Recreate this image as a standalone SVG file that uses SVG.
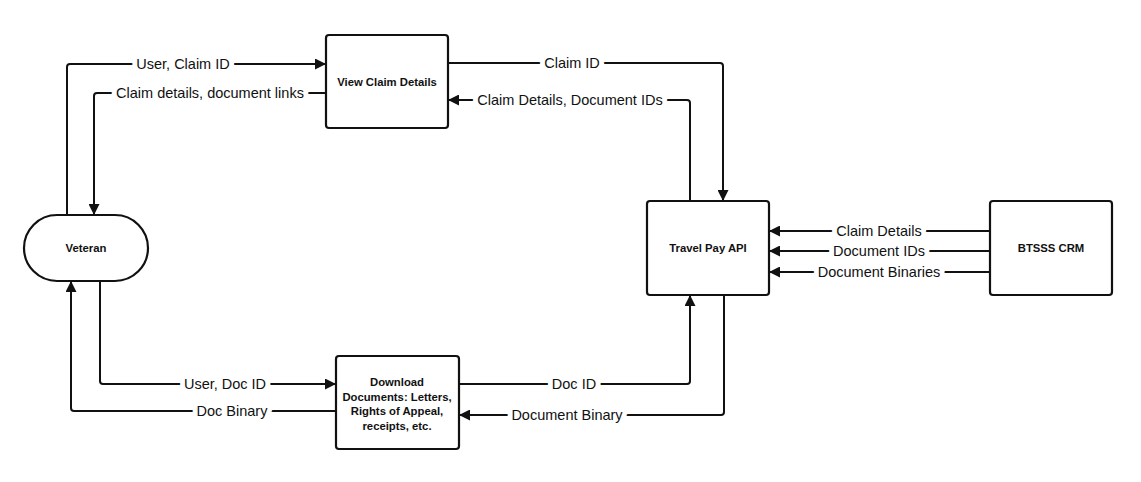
<svg xmlns="http://www.w3.org/2000/svg" width="1141" height="482" viewBox="0 0 1141 482">
<style>
.node{fill:#fff;stroke:#111;stroke-width:2.2}
.nt{font-family:"Liberation Sans",Arial,sans-serif;font-weight:bold;font-size:11.3px;fill:#111;text-anchor:middle}
.edge{fill:none;stroke:#111;stroke-width:2;stroke-linejoin:round}
.lbl{font-family:"Liberation Sans",Arial,sans-serif;font-size:14.5px;fill:#111;text-anchor:middle;stroke:#fff;stroke-width:10;paint-order:stroke;stroke-linejoin:round}
</style>
<defs>
<marker id="ah" viewBox="0 0 10 10" refX="10" refY="5" markerWidth="5.5" markerHeight="5.5" orient="auto" markerUnits="strokeWidth">
<path d="M0,0 L10,5 L0,10 z" fill="#111"/>
</marker>
</defs>
<rect width="1141" height="482" fill="#fff"/>
<g id="connectors">
<path class="edge" d="M67,215 V67 Q67,64 70,64 H326" marker-end="url(#ah)"/>
<text class="lbl" x="183" y="69">User, Claim ID</text>
<path class="edge" d="M326,93 H97 Q94,93 94,96 V215" marker-end="url(#ah)"/>
<text class="lbl" x="210" y="98">Claim details, document links</text>
<path class="edge" d="M448,63 H720 Q723,63 723,66 V201" marker-end="url(#ah)"/>
<text class="lbl" x="572" y="68">Claim ID</text>
<path class="edge" d="M690,201 V103 Q690,100 687,100 H448" marker-end="url(#ah)"/>
<text class="lbl" x="570" y="105">Claim Details, Document IDs</text>
<path class="edge" d="M989,231 H769" marker-end="url(#ah)"/>
<text class="lbl" x="879" y="236">Claim Details</text>
<path class="edge" d="M989,251 H769" marker-end="url(#ah)"/>
<text class="lbl" x="879" y="256">Document IDs</text>
<path class="edge" d="M989,272 H769" marker-end="url(#ah)"/>
<text class="lbl" x="879" y="277">Document Binaries</text>
<path class="edge" d="M100,281 V381 Q100,384 103,384 H336" marker-end="url(#ah)"/>
<text class="lbl" x="225" y="389">User, Doc ID</text>
<path class="edge" d="M336,411 H74 Q71,411 71,408 V281" marker-end="url(#ah)"/>
<text class="lbl" x="232" y="416">Doc Binary</text>
<path class="edge" d="M459,384 H687 Q690,384 690,381 V295" marker-end="url(#ah)"/>
<text class="lbl" x="574" y="389">Doc ID</text>
<path class="edge" d="M724,295 V412 Q724,415 721,415 H459" marker-end="url(#ah)"/>
<text class="lbl" x="567" y="420">Document Binary</text>
</g>
<g id="view-claim-details">
<rect class="node" x="326" y="35" width="122" height="93" rx="3"/>
<text class="nt" x="387" y="86">View Claim Details</text>
</g>
<g id="veteran">
<rect class="node" x="24" y="215" width="124" height="66" rx="33"/>
<text class="nt" x="86" y="252">Veteran</text>
</g>
<g id="travel-pay-api">
<rect class="node" x="647" y="201" width="122" height="94" rx="3"/>
<text class="nt" x="708" y="252">Travel Pay API</text>
</g>
<g id="btsss-crm">
<rect class="node" x="990" y="201" width="122" height="94" rx="3"/>
<text class="nt" x="1051" y="252">BTSSS CRM</text>
</g>
<g id="download-documents">
<rect class="node" x="336" y="356" width="123" height="93" rx="3"/>
<text class="nt" x="397" y="386">Download</text>
<text class="nt" x="397" y="401">Documents: Letters,</text>
<text class="nt" x="397" y="415">Rights of Appeal,</text>
<text class="nt" x="397" y="430">receipts, etc.</text>
</g>
</svg>
